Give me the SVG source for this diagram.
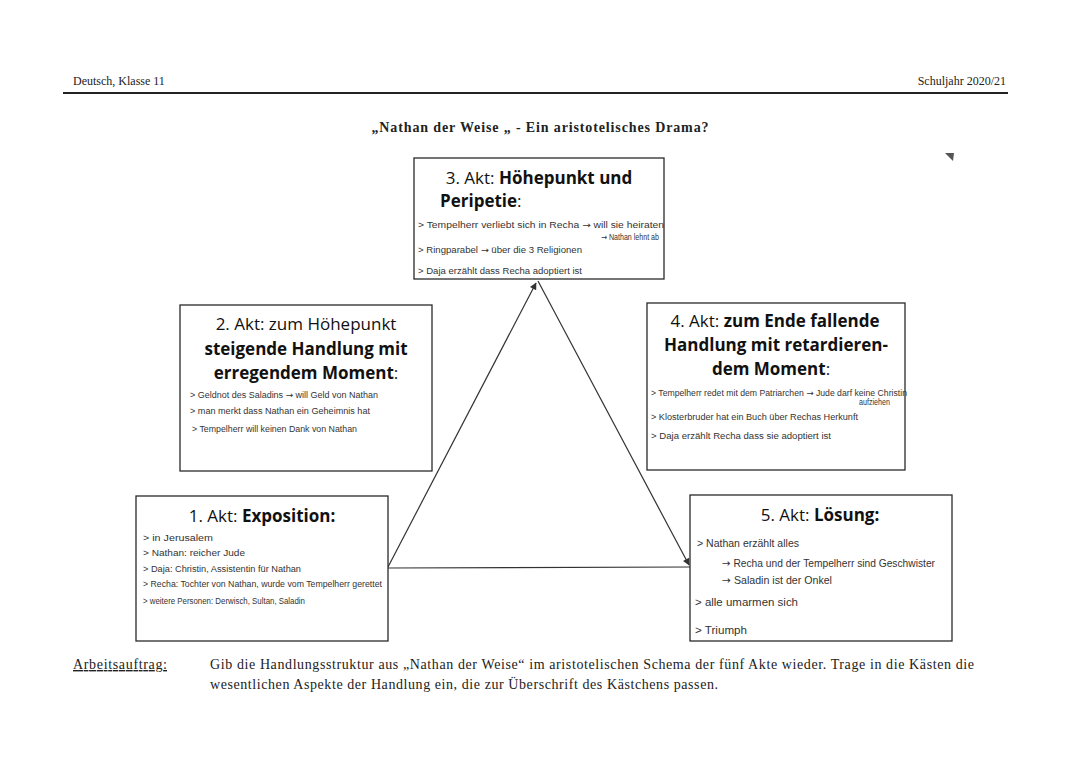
<svg xmlns="http://www.w3.org/2000/svg" width="1080" height="765" viewBox="0 0 1080 765">
<style>
.bg{fill:#fff}
.box{fill:#fff;stroke:#2a2a2a;stroke-width:1.3}
.serif{font-family:"Liberation Serif","Times New Roman",serif;fill:#222}
.head{font-family:"Open Sans","Noto Sans",sans-serif;font-size:17px;fill:#111}
.b{font-weight:700}
.hw{font-family:"Liberation Sans",Arial,sans-serif;font-size:8.5px;fill:#333}
.hw5{font-family:"Liberation Sans",Arial,sans-serif;font-size:10.5px;fill:#333}
.ar{font-family:"DejaVu Sans",sans-serif}
.conn{stroke:#333;stroke-width:1.2;fill:none}
</style>
<defs>
<marker id="arr" viewBox="0 0 10 10" refX="9" refY="5" markerWidth="9" markerHeight="7" orient="auto" markerUnits="userSpaceOnUse">
<path d="M0,0 L10,5 L0,10 z" fill="#333"/>
</marker>
</defs>
<rect class="bg" x="0" y="0" width="1080" height="765"/>
<g id="header">
<text class="serif" x="73" y="85" font-size="12">Deutsch, Klasse 11</text>
<text class="serif" x="1006" y="85" font-size="12" text-anchor="end">Schuljahr 2020/21</text>
<line x1="63" y1="93" x2="1008" y2="93" stroke="#222" stroke-width="1.8"/>
<text class="serif b" x="540" y="132" font-size="14" text-anchor="middle" textLength="337">„Nathan der Weise „ - Ein aristotelisches Drama?</text>
<polygon points="945,153 954,153 953,161" fill="#555"/>
</g>
<g id="connectors">
<line class="conn" x1="388" y1="567" x2="536" y2="283" marker-end="url(#arr)"/>
<line class="conn" x1="538" y1="281" x2="689" y2="565" marker-end="url(#arr)"/>
<line class="conn" x1="388" y1="568" x2="690" y2="567"/>
</g>
<g id="akt3">
<rect class="box" x="414" y="158" width="250" height="121"/>
<text class="head" x="539" y="184" text-anchor="middle">3. Akt: <tspan class="b">Höhepunkt und</tspan></text>
<text class="head b" x="440" y="207">Peripetie<tspan font-weight="400">:</tspan></text>
<text class="hw" x="418" y="228" textLength="246" lengthAdjust="spacingAndGlyphs">&gt; Tempelherr verliebt sich in Recha <tspan class="ar">→</tspan> will sie heiraten</text>
<text class="hw" x="601" y="240" textLength="58" lengthAdjust="spacingAndGlyphs"><tspan class="ar">→</tspan> Nathan lehnt ab</text>
<text class="hw" x="418" y="253" textLength="164" lengthAdjust="spacingAndGlyphs">&gt; Ringparabel <tspan class="ar">→</tspan> über die 3 Religionen</text>
<text class="hw" x="418" y="274" textLength="164" lengthAdjust="spacingAndGlyphs">&gt; Daja erzählt dass Recha adoptiert ist</text>
</g>
<g id="akt2">
<rect class="box" x="180" y="305" width="252" height="166"/>
<text class="head" x="306" y="330" text-anchor="middle">2. Akt: zum Höhepunkt</text>
<text class="head b" x="306" y="355" text-anchor="middle">steigende Handlung mit</text>
<text class="head b" x="306" y="379" text-anchor="middle">erregendem Moment<tspan font-weight="400">:</tspan></text>
<text class="hw" x="190" y="398" textLength="188" lengthAdjust="spacingAndGlyphs">&gt; Geldnot des Saladins <tspan class="ar">→</tspan> will Geld von Nathan</text>
<text class="hw" x="190" y="414" textLength="180" lengthAdjust="spacingAndGlyphs">&gt; man merkt dass Nathan ein Geheimnis hat</text>
<text class="hw" x="192" y="432" textLength="165" lengthAdjust="spacingAndGlyphs">&gt; Tempelherr will keinen Dank von Nathan</text>
</g>
<g id="akt4">
<rect class="box" x="647" y="303" width="258" height="167"/>
<text class="head" x="775" y="327" text-anchor="middle">4. Akt: <tspan class="b">zum Ende fallende</tspan></text>
<text class="head b" x="776" y="351" text-anchor="middle">Handlung mit retardieren-</text>
<text class="head b" x="771" y="375" text-anchor="middle">dem Moment<tspan font-weight="400">:</tspan></text>
<text class="hw" x="651" y="396" textLength="256" lengthAdjust="spacingAndGlyphs">&gt; Tempelherr redet mit dem Patriarchen <tspan class="ar">→</tspan> Jude darf keine Christin</text>
<text class="hw" x="859" y="405" textLength="31" lengthAdjust="spacingAndGlyphs">aufziehen</text>
<text class="hw" x="651" y="420" textLength="207" lengthAdjust="spacingAndGlyphs">&gt; Klosterbruder hat ein Buch über Rechas Herkunft</text>
<text class="hw" x="651" y="439" textLength="180" lengthAdjust="spacingAndGlyphs">&gt; Daja erzählt Recha dass sie adoptiert ist</text>
</g>
<g id="akt1">
<rect class="box" x="136" y="496" width="252" height="145"/>
<text class="head" x="262" y="522" text-anchor="middle">1. Akt: <tspan class="b">Exposition:</tspan></text>
<text class="hw" x="143" y="541" textLength="70" lengthAdjust="spacingAndGlyphs">&gt; in Jerusalem</text>
<text class="hw" x="143" y="556" textLength="102" lengthAdjust="spacingAndGlyphs">&gt; Nathan: reicher Jude</text>
<text class="hw" x="143" y="572" textLength="158" lengthAdjust="spacingAndGlyphs">&gt; Daja: Christin, Assistentin für Nathan</text>
<text class="hw" x="143" y="587" textLength="239" lengthAdjust="spacingAndGlyphs">&gt; Recha: Tochter von Nathan, wurde vom Tempelherr gerettet</text>
<text class="hw" x="143" y="604" textLength="162" lengthAdjust="spacingAndGlyphs">&gt; weitere Personen: Derwisch, Sultan, Saladin</text>
</g>
<g id="akt5">
<rect class="box" x="690" y="495" width="262" height="146"/>
<text class="head" x="820" y="521" text-anchor="middle">5. Akt: <tspan class="b">Lösung:</tspan></text>
<text class="hw5" x="697" y="547" textLength="102" lengthAdjust="spacingAndGlyphs">&gt; Nathan erzählt alles</text>
<text class="hw5" x="722" y="567" textLength="213" lengthAdjust="spacingAndGlyphs"><tspan class="ar">→</tspan> Recha und der Tempelherr sind Geschwister</text>
<text class="hw5" x="722" y="584" textLength="110" lengthAdjust="spacingAndGlyphs"><tspan class="ar">→</tspan> Saladin ist der Onkel</text>
<text class="hw5" x="695" y="606" textLength="103" lengthAdjust="spacingAndGlyphs">&gt; alle umarmen sich</text>
<text class="hw5" x="695" y="634" textLength="52" lengthAdjust="spacingAndGlyphs">&gt; Triumph</text>
</g>
<g id="footer">
<text class="serif" x="73" y="669" font-size="14" text-decoration="underline" textLength="94">Arbeitsauftrag:</text>
<text class="serif" x="210" y="669" font-size="14" textLength="764">Gib die Handlungsstruktur aus „Nathan der Weise“ im aristotelischen Schema der fünf Akte wieder. Trage in die Kästen die</text>
<text class="serif" x="210" y="689" font-size="14" textLength="508">wesentlichen Aspekte der Handlung ein, die zur Überschrift des Kästchens passen.</text>
</g>
</svg>
